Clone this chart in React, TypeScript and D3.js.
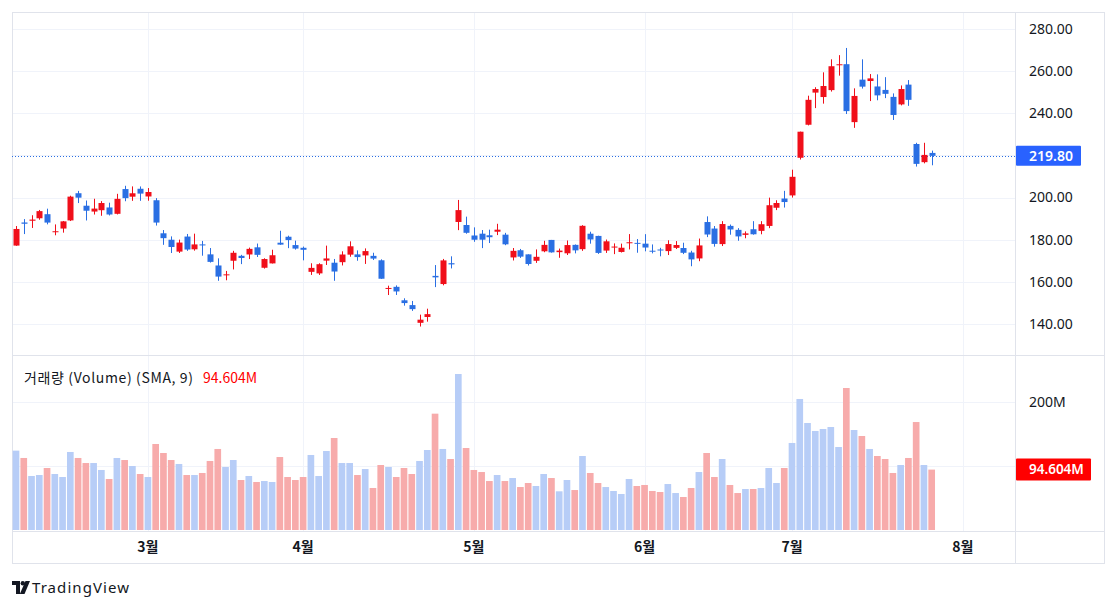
import { useRef, useEffect } from "react";
import * as d3 from "d3";

// trading days (2024)
const dates = [
  "2024-02-06", "2024-02-07", "2024-02-08", "2024-02-09", "2024-02-12", "2024-02-13", "2024-02-14", "2024-02-15", "2024-02-16",
  "2024-02-20", "2024-02-21", "2024-02-22", "2024-02-23", "2024-02-26", "2024-02-27", "2024-02-28", "2024-02-29",
  "2024-03-01", "2024-03-04", "2024-03-05", "2024-03-06", "2024-03-07", "2024-03-08", "2024-03-11", "2024-03-12", "2024-03-13",
  "2024-03-14", "2024-03-15", "2024-03-18", "2024-03-19", "2024-03-20", "2024-03-21", "2024-03-22", "2024-03-25", "2024-03-26",
  "2024-03-27", "2024-03-28",
  "2024-04-01", "2024-04-02", "2024-04-03", "2024-04-04", "2024-04-05", "2024-04-08", "2024-04-09", "2024-04-10", "2024-04-11",
  "2024-04-12", "2024-04-15", "2024-04-16", "2024-04-17", "2024-04-18", "2024-04-19", "2024-04-22", "2024-04-23", "2024-04-24",
  "2024-04-25", "2024-04-26", "2024-04-29", "2024-04-30",
  "2024-05-01", "2024-05-02", "2024-05-03", "2024-05-06", "2024-05-07", "2024-05-08", "2024-05-09", "2024-05-10", "2024-05-13",
  "2024-05-14", "2024-05-15", "2024-05-16", "2024-05-17", "2024-05-20", "2024-05-21", "2024-05-22", "2024-05-23", "2024-05-24",
  "2024-05-28", "2024-05-29", "2024-05-30", "2024-05-31",
  "2024-06-03", "2024-06-04", "2024-06-05", "2024-06-06", "2024-06-07", "2024-06-10", "2024-06-11", "2024-06-12", "2024-06-13",
  "2024-06-14", "2024-06-17", "2024-06-18", "2024-06-20", "2024-06-21", "2024-06-24", "2024-06-25", "2024-06-26", "2024-06-27",
  "2024-06-28",
  "2024-07-01", "2024-07-02", "2024-07-03", "2024-07-05", "2024-07-08", "2024-07-09", "2024-07-10", "2024-07-11", "2024-07-12",
  "2024-07-15", "2024-07-16", "2024-07-17", "2024-07-18", "2024-07-19", "2024-07-22", "2024-07-23", "2024-07-24", "2024-07-25",
  "2024-07-26",
];
// empty slots right of the last bar
const futureDates = ["2024-07-29", "2024-07-30", "2024-07-31", "2024-08-01"];

const opens = [
  177.21, 188.18, 189.0, 190.18, 192.11, 183.99, 185.3, 189.16, 202.06, 196.13, 193.36, 194.0, 195.31, 192.29, 204.04, 200.42, 204.18,
  200.52, 198.73, 183.05, 179.99, 174.35, 181.5, 175.45, 177.77, 173.05, 167.77, 163.16, 170.02, 172.36, 173.0, 176.39, 166.69, 168.76,
  178.58, 181.41, 177.45,
  176.17, 164.75, 164.02, 170.07, 169.08, 169.34, 172.91, 173.04, 172.55, 172.34, 170.24, 156.74, 157.64, 151.25, 148.97, 140.56,
  143.33, 162.84, 158.96, 168.85, 188.42, 186.98,
  182.0, 182.86, 182.1, 183.8, 182.4, 171.59, 175.01, 173.05, 170.0, 174.5, 179.9, 174.1, 173.55, 177.56, 175.51, 182.85, 181.8,
  174.84, 176.4, 174.19, 178.58, 178.5,
  178.13, 174.78, 175.35, 174.6, 176.13, 176.06, 173.92, 171.12, 188.39, 185.3, 177.92, 186.56, 184.68, 182.3, 184.97, 184.2, 186.54,
  195.17, 199.55,
  201.02, 218.89, 234.56, 249.81, 247.71, 251.0, 262.8, 263.3, 235.8, 255.97, 255.31, 252.73, 251.09, 247.79, 244.21, 253.6, 225.42,
  216.8, 221.19,
];
const highs = [
  186.49, 189.79, 191.62, 194.12, 194.73, 187.26, 188.89, 200.88, 203.17, 198.6, 199.44, 198.32, 197.57, 201.78, 205.6, 205.3, 205.28,
  204.52, 199.75, 184.59, 181.58, 180.04, 182.73, 182.87, 179.43, 176.05, 171.17, 165.18, 174.72, 172.82, 176.25, 178.18, 171.2, 175.24,
  184.25, 181.91, 179.57,
  176.75, 168.82, 168.82, 177.19, 170.86, 174.5, 179.22, 174.93, 175.88, 173.81, 170.69, 158.19, 158.33, 152.2, 150.94, 144.44,
  147.26, 167.97, 170.88, 172.12, 198.87, 190.95,
  185.86, 184.6, 184.78, 187.56, 183.26, 176.06, 175.62, 173.06, 175.4, 179.49, 179.9, 175.79, 179.63, 177.75, 186.88, 183.8, 181.9,
  180.08, 178.25, 178.15, 182.67, 180.32,
  182.64, 177.76, 176.15, 179.73, 179.35, 178.57, 174.75, 180.55, 191.08, 186.5, 188.81, 187.2, 185.5, 183.95, 188.8, 188.8, 199.97,
  198.72, 203.2,
  213.23, 231.3, 248.35, 252.37, 259.44, 265.61, 267.59, 271.0, 251.84, 265.6, 258.62, 258.47, 257.14, 249.44, 253.21, 255.76, 225.99,
  226.0, 222.28,
];
const lows = [
  177.11, 182.68, 185.58, 189.48, 187.28, 182.11, 183.35, 188.86, 197.4, 189.13, 191.95, 191.36, 191.5, 192.0, 198.26, 198.44, 198.45,
  198.5, 186.72, 177.57, 173.7, 173.7, 174.7, 174.8, 172.41, 169.15, 160.51, 160.76, 165.9, 168.42, 170.82, 171.8, 166.3, 168.73,
  177.61, 176.0, 175.3,
  170.21, 163.28, 163.28, 168.01, 160.51, 167.79, 171.92, 170.01, 168.51, 170.36, 161.38, 153.75, 153.78, 148.7, 146.22, 138.8,
  141.11, 157.51, 158.36, 166.37, 184.54, 182.84,
  179.01, 176.02, 178.42, 182.2, 177.4, 170.15, 171.37, 167.75, 169.0, 174.07, 173.87, 171.43, 172.75, 173.52, 174.71, 178.12, 173.26,
  173.73, 173.16, 173.93, 175.38, 173.82,
  174.49, 173.52, 172.13, 172.73, 175.58, 173.17, 167.41, 169.8, 181.23, 176.7, 177.0, 182.37, 179.5, 180.69, 182.39, 182.58, 185.48,
  194.05, 195.26,
  200.0, 218.06, 234.25, 242.46, 244.57, 250.3, 257.86, 239.65, 233.09, 251.73, 245.8, 246.18, 247.2, 236.83, 243.75, 243.53, 214.71,
  216.23, 215.33,
];
const closes = [
  185.1, 187.58, 189.56, 193.57, 188.13, 184.02, 188.71, 200.45, 199.95, 193.76, 194.77, 197.41, 191.97, 199.4, 199.73, 202.04, 201.88,
  202.64, 188.14, 180.74, 176.54, 178.65, 175.34, 177.77, 177.54, 169.48, 162.5, 163.57, 173.8, 171.32, 175.66, 172.82, 170.83, 172.63,
  177.67, 179.83, 175.79,
  175.22, 166.63, 168.38, 171.11, 164.9, 172.98, 176.88, 171.76, 174.6, 171.05, 161.48, 157.11, 155.45, 149.93, 147.05, 142.05,
  144.68, 162.13, 170.18, 168.29, 194.05, 183.28,
  179.99, 180.01, 181.19, 184.76, 177.81, 174.72, 171.97, 168.47, 171.89, 177.55, 173.99, 174.84, 177.46, 174.95, 186.6, 180.11, 173.74,
  179.24, 176.75, 176.19, 178.79, 178.08,
  176.29, 174.77, 175.0, 177.94, 177.48, 173.79, 170.66, 177.29, 182.47, 178.01, 187.44, 184.86, 181.57, 183.01, 182.58, 187.35, 196.37,
  197.42, 197.88,
  209.86, 231.26, 246.39, 251.52, 252.94, 262.33, 263.26, 241.03, 248.23, 252.64, 256.56, 248.5, 249.23, 239.2, 251.51, 246.38, 215.99,
  220.25, 219.8,
];
// volume in millions
const volumes = [
  124.3, 112.8, 84.6, 86.1, 97.1, 87.7, 83.0, 122.2, 112.8, 104.9, 104.9, 94.0, 79.9, 112.8, 109.6, 100.2, 87.7,
  83.0, 134.7, 120.6, 109.6, 103.4, 86.1, 86.1, 89.3, 108.1, 126.9, 98.7, 109.6, 78.3, 84.6, 75.2, 76.7, 75.2, 114.3, 83.0, 78.3,
  83.0, 117.5, 84.6, 123.7, 144.1, 104.9, 104.9, 86.1, 95.5, 65.8, 101.8, 98.7, 83.0, 97.1, 87.7, 108.1, 125.3, 182.2, 126.9, 111.2,
  244.3, 128.4,
  94.0, 90.8, 76.7, 86.1, 76.7, 81.4, 67.3, 73.6, 68.9, 87.7, 81.4, 60.6, 78.3, 62.6, 115.9, 89.3, 73.6, 67.3, 61.1, 56.4, 79.9, 68.9,
  70.5, 61.1, 59.5, 72.0, 57.9, 51.7, 65.8, 90.8, 120.6, 83.0, 111.2, 70.5, 57.9, 64.2, 64.2, 65.8, 97.1, 73.6, 97.1,
  136.3, 205.2, 167.6, 155.1, 158.2, 161.3, 130.0, 222.4, 156.6, 147.2, 126.9, 115.9, 111.2, 89.3, 101.8, 112.8, 169.1, 101.8, 94.604,
];

const priceTicks = [140, 160, 180, 200, 220, 240, 260, 280];
const priceLabels = [140, 160, 180, 200, 240, 260, 280];
const volumeTicks = [100, 200];
const volumeLabels = [200];
const monthTicks = [
  { date: "2024-03-01", label: "3월" },
  { date: "2024-04-01", label: "4월" },
  { date: "2024-05-01", label: "5월" },
  { date: "2024-06-03", label: "6월" },
  { date: "2024-07-01", label: "7월" },
  { date: "2024-08-01", label: "8월" },
];
const lastClose = 219.8;
const lastVolume = 94.604;
const volumeTitle = "거래량 (Volume) (SMA, 9)";

const UP = "#f00f1a";
const DOWN = "#2a6fe3";
const VOL_UP = "#b7cdf7";
const VOL_DOWN = "#f7abab";
const GRID = "#f0f3fa";
const BORDER = "#e0e3eb";
const TEXT = "#131722";
const FONT = "'Noto Sans', 'Noto Sans CJK KR', sans-serif";
const KFONT = "'Noto Sans CJK KR', 'Noto Sans', sans-serif";

export default function App() {
  const svgRef = useRef<SVGSVGElement>(null);

  useEffect(() => {
    document.body.style.margin = "0";

    const width = 1118;
    const height = 609;
    const frame = { left: 12, right: 1104, top: 12, bottom: 563 };
    const plotRight = 1015;
    const paneSplit = 355;
    const timeTop = 531;

    const svg = d3.select(svgRef.current).attr("width", width).attr("height", height);
    svg.selectAll("*").remove();

    svg.append("rect").attr("width", width).attr("height", height).attr("fill", "#fff");

    // scales
    const step = 7.76;
    const allDates = dates.concat(futureDates);
    const xStart = 16 - step / 2;
    const xScale = d3
      .scaleBand()
      .domain(allDates)
      .range([xStart, xStart + allDates.length * step])
      .paddingInner(0.25)
      .paddingOuter(0.125);
    const cx = (d: string) => (xScale(d) as number) + xScale.bandwidth() / 2;

    const yPrice = d3.scaleLinear().domain([140, 280]).range([324, 29]);
    const yVol = d3.scaleLinear().domain([0, 200]).range([530, 402.3]);

    // grid
    const grid = svg.append("g");
    grid
      .selectAll(".hp")
      .data(priceTicks)
      .join("line")
      .attr("x1", frame.left)
      .attr("x2", plotRight)
      .attr("y1", (d) => Math.round(yPrice(d)) + 0.5)
      .attr("y2", (d) => Math.round(yPrice(d)) + 0.5)
      .attr("stroke", GRID);
    grid
      .selectAll(".hv")
      .data(volumeTicks)
      .join("line")
      .attr("x1", frame.left)
      .attr("x2", plotRight)
      .attr("y1", (d) => Math.round(yVol(d)) + 0.5)
      .attr("y2", (d) => Math.round(yVol(d)) + 0.5)
      .attr("stroke", GRID);
    grid
      .selectAll(".vg")
      .data(monthTicks)
      .join("line")
      .attr("x1", (d) => Math.round(cx(d.date)) + 0.5)
      .attr("x2", (d) => Math.round(cx(d.date)) + 0.5)
      .attr("y1", frame.top)
      .attr("y2", timeTop)
      .attr("stroke", GRID);

    // frame and separators
    svg
      .append("rect")
      .attr("x", frame.left + 0.5)
      .attr("y", frame.top + 0.5)
      .attr("width", frame.right - frame.left)
      .attr("height", frame.bottom - frame.top)
      .attr("fill", "none")
      .attr("stroke", BORDER);
    svg.append("line").attr("x1", frame.left).attr("x2", frame.right).attr("y1", paneSplit + 0.5).attr("y2", paneSplit + 0.5).attr("stroke", BORDER);
    svg.append("line").attr("x1", frame.left).attr("x2", frame.right).attr("y1", timeTop + 0.5).attr("y2", timeTop + 0.5).attr("stroke", BORDER);
    svg.append("line").attr("x1", plotRight + 0.5).attr("x2", plotRight + 0.5).attr("y1", frame.top).attr("y2", frame.bottom).attr("stroke", BORDER);

    const candles = dates.map((d, i) => ({
      date: d,
      o: opens[i],
      h: highs[i],
      l: lows[i],
      c: closes[i],
      v: volumes[i],
    }));

    // volume bars
    const vw = step * 0.86;
    svg
      .append("g")
      .selectAll("rect")
      .data(candles)
      .join("rect")
      .attr("x", (d) => cx(d.date) - vw / 2)
      .attr("width", vw)
      .attr("y", (d) => yVol(d.v))
      .attr("height", (d) => yVol(0) - yVol(d.v))
      .attr("fill", (d) => (d.c >= d.o ? VOL_UP : VOL_DOWN));

    // last close dotted line
    svg
      .append("line")
      .attr("x1", frame.left)
      .attr("x2", plotRight)
      .attr("y1", Math.round(yPrice(lastClose)) + 0.5)
      .attr("y2", Math.round(yPrice(lastClose)) + 0.5)
      .attr("stroke", DOWN)
      .attr("stroke-dasharray", "1 2");

    // candles
    const bw = Math.round(xScale.bandwidth());
    const cg = svg.append("g").selectAll("g").data(candles).join("g");
    cg.append("line")
      .attr("x1", (d) => Math.round(cx(d.date)) + 0.5)
      .attr("x2", (d) => Math.round(cx(d.date)) + 0.5)
      .attr("y1", (d) => yPrice(d.h))
      .attr("y2", (d) => yPrice(d.l))
      .attr("stroke", (d) => (d.c >= d.o ? UP : DOWN));
    cg.append("rect")
      .attr("x", (d) => Math.round(cx(d.date)) + 0.5 - bw / 2)
      .attr("width", bw)
      .attr("y", (d) => yPrice(Math.max(d.o, d.c)))
      .attr("height", (d) => Math.max(1, Math.abs(yPrice(d.o) - yPrice(d.c))))
      .attr("fill", (d) => (d.c >= d.o ? UP : DOWN));

    // price axis labels
    svg
      .append("g")
      .selectAll("text")
      .data(priceLabels)
      .join("text")
      .attr("x", 1029)
      .attr("y", (d) => yPrice(d))
      .attr("dy", "0.35em")
      .attr("font-family", FONT)
      .attr("font-size", 14)
      .attr("fill", TEXT)
      .text((d) => d3.format(".2f")(d));

    svg
      .append("g")
      .selectAll("text")
      .data(volumeLabels)
      .join("text")
      .attr("x", 1029)
      .attr("y", (d) => yVol(d))
      .attr("dy", "0.35em")
      .attr("font-family", FONT)
      .attr("font-size", 14)
      .attr("fill", TEXT)
      .text((d) => d + "M");

    // last value badges
    const yc = yPrice(lastClose);
    svg.append("rect").attr("x", plotRight + 1).attr("y", yc - 10).attr("width", 65).attr("height", 20).attr("rx", 1).attr("fill", "#2962ff");
    svg
      .append("text")
      .attr("x", 1029)
      .attr("y", yc)
      .attr("dy", "0.35em")
      .attr("font-family", FONT)
      .attr("font-size", 14)
      .attr("font-weight", 600)
      .attr("fill", "#fff")
      .text(d3.format(".2f")(lastClose));

    const yv = yVol(lastVolume);
    svg.append("rect").attr("x", plotRight + 1).attr("y", yv - 11).attr("width", 75).attr("height", 22).attr("rx", 1).attr("fill", "#f00");
    svg
      .append("text")
      .attr("x", 1029)
      .attr("y", yv)
      .attr("dy", "0.35em")
      .attr("font-family", FONT)
      .attr("font-size", 13.5)
      .attr("font-weight", 600)
      .attr("fill", "#fff")
      .text(lastVolume.toFixed(3) + "M");

    // volume legend
    const legend = svg
      .append("text")
      .attr("x", 24)
      .attr("y", 383)
      .attr("font-family", KFONT)
      .attr("font-size", 14)
      .attr("fill", TEXT);
    legend.append("tspan").attr("textLength", 169).text(volumeTitle);
    legend.append("tspan").attr("x", 203).attr("fill", "#f00").text(lastVolume.toFixed(3) + "M");

    // month labels
    svg
      .append("g")
      .selectAll("text")
      .data(monthTicks)
      .join("text")
      .attr("x", (d) => cx(d.date))
      .attr("y", 547)
      .attr("dy", "0.35em")
      .attr("text-anchor", "middle")
      .attr("font-family", KFONT)
      .attr("font-size", 14)
      .attr("font-weight", 700)
      .attr("fill", TEXT)
      .text((d) => d.label);

    // TradingView mark
    const logo = svg.append("g").attr("transform", "translate(12,581)").attr("fill", TEXT);
    logo.append("path").attr("d", "M0 0H8V13H4V4H0Z");
    logo.append("circle").attr("cx", 10.8).attr("cy", 2.2).attr("r", 2.2);
    logo.append("path").attr("d", "M13.5 0H18L12.5 13H7.8Z");
    svg
      .append("text")
      .attr("x", 32)
      .attr("y", 593)
      .attr("font-family", FONT)
      .attr("font-size", 15)
      .attr("textLength", 97)
      .attr("fill", TEXT)
      .text("TradingView");
  }, []);

  return (
    <div>
      <svg ref={svgRef} style={{ display: "block" }}></svg>
    </div>
  );
}
